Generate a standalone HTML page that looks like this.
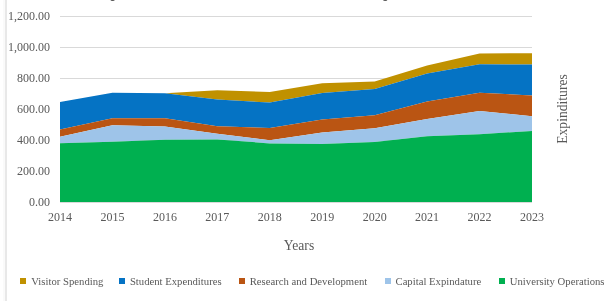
<!DOCTYPE html>
<html><head><meta charset="utf-8"><style>
html,body{margin:0;padding:0;background:#fff;}
body{width:611px;height:301px;overflow:hidden;position:relative;}
svg{position:absolute;left:0;top:0;will-change:transform;}
text{font-family:"Liberation Serif",serif;fill:#595959;}
.ax{font-size:12px;}
.lg{font-size:10.7px;}
.ti{font-size:13.6px;}
</style></head><body>
<svg width="611" height="301" viewBox="0 0 611 301">
<rect x="3" y="0" width="2" height="301" fill="#FAFAFA"/><rect x="5" y="0" width="2" height="301" fill="#E8E8E8"/>
<ellipse cx="112.6" cy="0" rx="2.1" ry="1.1" fill="#555"/>
<ellipse cx="385.2" cy="0" rx="2.1" ry="1.1" fill="#555"/>
<line x1="60" x2="532" y1="16.5" y2="16.5" stroke="#D9D9D9" stroke-width="1"/><line x1="60" x2="532" y1="47.5" y2="47.5" stroke="#D9D9D9" stroke-width="1"/><line x1="60" x2="532" y1="78.5" y2="78.5" stroke="#D9D9D9" stroke-width="1"/><line x1="60" x2="532" y1="109.5" y2="109.5" stroke="#D9D9D9" stroke-width="1"/><line x1="60" x2="532" y1="140.5" y2="140.5" stroke="#D9D9D9" stroke-width="1"/><line x1="60" x2="532" y1="171.5" y2="171.5" stroke="#D9D9D9" stroke-width="1"/><line x1="60" x2="532" y1="202.5" y2="202.5" stroke="#D9D9D9" stroke-width="1"/>
<path d="M60 102 L112.44 92.8 L164.89 93.3 L217.33 90.3 L269.78 92 L322.22 83.2 L374.67 81.6 L427.11 65.4 L479.56 53.4 L532 53.2 L532 64.6 L479.56 64.3 L427.11 73.4 L374.67 89 L322.22 93 L269.78 102.6 L217.33 99.6 L164.89 93.3 L112.44 92.8 L60 102 Z" fill="#C09100"/>
<path d="M60 102 L112.44 92.8 L164.89 93.3 L217.33 99.6 L269.78 102.6 L322.22 93 L374.67 89 L427.11 73.4 L479.56 64.3 L532 64.6 L532 95.5 L479.56 92.7 L427.11 101.5 L374.67 115.2 L322.22 119.5 L269.78 128 L217.33 126.2 L164.89 118.2 L112.44 118.2 L60 129.5 Z" fill="#0573C4"/>
<path d="M60 129.5 L112.44 118.2 L164.89 118.2 L217.33 126.2 L269.78 128 L322.22 119.5 L374.67 115.2 L427.11 101.5 L479.56 92.7 L532 95.5 L532 116.2 L479.56 111 L427.11 118.9 L374.67 128.3 L322.22 132.5 L269.78 140.2 L217.33 133.8 L164.89 126.5 L112.44 125.2 L60 136.8 Z" fill="#BA5513"/>
<path d="M60 136.8 L112.44 125.2 L164.89 126.5 L217.33 133.8 L269.78 140.2 L322.22 132.5 L374.67 128.3 L427.11 118.9 L479.56 111 L532 116.2 L532 130.9 L479.56 134.2 L427.11 136.3 L374.67 142 L322.22 144 L269.78 143.4 L217.33 139.4 L164.89 139.7 L112.44 141.7 L60 143.2 Z" fill="#9EC4E9"/>
<path d="M60 143.2 L112.44 141.7 L164.89 139.7 L217.33 139.4 L269.78 143.4 L322.22 144 L374.67 142 L427.11 136.3 L479.56 134.2 L532 130.9 L532 202.1 L479.56 202.1 L427.11 202.1 L374.67 202.1 L322.22 202.1 L269.78 202.1 L217.33 202.1 L164.89 202.1 L112.44 202.1 L60 202.1 Z" fill="#00B050"/>
<text x="50" y="20" text-anchor="end" class="ax">1,200.00</text><text x="50" y="51" text-anchor="end" class="ax">1,000.00</text><text x="50" y="82" text-anchor="end" class="ax">800.00</text><text x="50" y="113" text-anchor="end" class="ax">600.00</text><text x="50" y="144" text-anchor="end" class="ax">400.00</text><text x="50" y="175" text-anchor="end" class="ax">200.00</text><text x="50" y="206" text-anchor="end" class="ax">0.00</text>
<text x="60" y="221" text-anchor="middle" class="ax">2014</text><text x="112.44" y="221" text-anchor="middle" class="ax">2015</text><text x="164.89" y="221" text-anchor="middle" class="ax">2016</text><text x="217.33" y="221" text-anchor="middle" class="ax">2017</text><text x="269.78" y="221" text-anchor="middle" class="ax">2018</text><text x="322.22" y="221" text-anchor="middle" class="ax">2019</text><text x="374.67" y="221" text-anchor="middle" class="ax">2020</text><text x="427.11" y="221" text-anchor="middle" class="ax">2021</text><text x="479.56" y="221" text-anchor="middle" class="ax">2022</text><text x="532" y="221" text-anchor="middle" class="ax">2023</text>
<text x="299" y="249.8" text-anchor="middle" class="ti">Years</text>
<text transform="translate(566.7 109) rotate(-90)" x="0" y="0" text-anchor="middle" class="ti">Expinditures</text>
<rect x="20" y="278" width="6" height="6" fill="#C09100"/><text x="31.3" y="285" class="lg">Visitor Spending</text><rect x="119" y="278" width="6" height="6" fill="#0573C4"/><text x="129.9" y="285" class="lg">Student Expenditures</text><rect x="239" y="278" width="6" height="6" fill="#BA5513"/><text x="249.7" y="285" class="lg">Research and Development</text><rect x="385" y="278" width="6" height="6" fill="#9EC4E9"/><text x="395.5" y="285" class="lg">Capital Expindature</text><rect x="499" y="278" width="6" height="6" fill="#00B050"/><text x="509.8" y="285" class="lg">University Operations</text>
</svg>
</body></html>
